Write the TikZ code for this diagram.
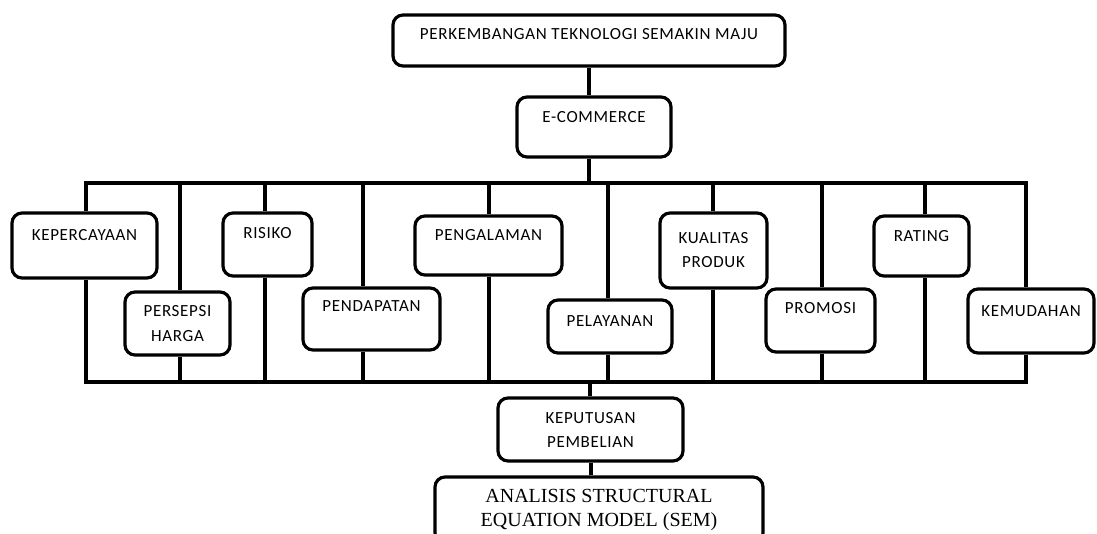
\documentclass[tikz,border=0pt]{standalone}
\usepackage{fontspec}
\newfontfamily\boxfont[LetterSpace=4]{Carlito}
\newfontfamily\semfont{Liberation Serif}
\begin{document}
\begin{tikzpicture}[
    x=1pt, y=-1pt,
    % Estilos de las cajas
    varbox/.style={draw=black, line width=3.2pt, rounded corners=10pt, fill=white,
        align=center, inner sep=0pt, font=\boxfont\fontsize{17}{25}\selectfont},
    sembox/.style={varbox, font=\semfont\fontsize{20}{24}\selectfont},
    % Estilos para las barras
    bar/.style={line width=4pt},
    bus/.style={line width=4pt, line cap=rect}
]
\useasboundingbox (0,0) rectangle (1097,533);
\clip (0,0) rectangle (1097,533);

% --- TOP ---
\node[varbox, minimum width=392pt, minimum height=51pt] (tek) at (589,40.5) {PERKEMBANGAN TEKNOLOGI SEMAKIN MAJU\\[-12pt]~};
\node[varbox, minimum width=154pt, minimum height=60pt] (ecom) at (594,127) {E-COMMERCE\\[-5pt]~};

% --- VARIABLES ---
\node[varbox, minimum width=145pt, minimum height=65pt] (kep) at (84.5,245.5) {KEPERCAYAAN\\[-4pt]~};
\node[varbox, minimum width=105pt, minimum height=63pt] (pers) at (177.5,323.5) {PERSEPSI\\HARGA};
\node[varbox, minimum width=89pt, minimum height=63pt] (ris) at (267.5,244.5) {RISIKO\\[-1pt]~};
\node[varbox, minimum width=137pt, minimum height=62pt] (pend) at (371.5,319) {PENDAPATAN\\~};
\node[varbox, minimum width=147pt, minimum height=59pt] (peng) at (488.5,245.5) {PENGALAMAN\\[-4pt]~};
\node[varbox, minimum width=124pt, minimum height=53pt] (pel) at (610,326.5) {PELAYANAN\\[-14pt]~};
\node[varbox, minimum width=107pt, minimum height=75pt] (kual) at (713.5,250.5) {KUALITAS\\[-1pt]PRODUK};
\node[varbox, minimum width=109pt, minimum height=63pt] (prom) at (820.5,320.5) {PROMOSI\\~};
\node[varbox, minimum width=95pt, minimum height=60pt] (rat) at (921.5,246) {RATING\\[-5pt]~};
\node[varbox, minimum width=126pt, minimum height=64pt] (kem) at (1031,321) {KEMUDAHAN\\[-5pt]~};

% --- BOTTOM ---
\node[varbox, minimum width=185pt, minimum height=63pt] (kpb) at (590.5,429.5) {KEPUTUSAN\\[-1pt]PEMBELIAN};
\node[sembox, minimum width=328pt, minimum height=66pt] (sem) at (599,510) {ANALISIS STRUCTURAL\\EQUATION MODEL (SEM)};

% --- BARS ---
\coordinate (busTL) at (86,183);
\coordinate (busTR) at (1026,183);
\coordinate (busBL) at (86,382);
\coordinate (busBR) at (1026,382);
\coordinate (spineT) at (589,183);
\coordinate (spineB) at (590,382);
\draw[bus] (busTL) -- (busTR);
\draw[bus] (busBL) -- (busBR);
\draw[bar] (tek.south) -- (tek.south |- ecom.north);
\draw[bar] (ecom.south -| spineT) -- (spineT);
\draw[bar] (spineB) -- (spineB |- kpb.north);
\draw[bar] (kpb.south) -- (kpb.south |- sem.north);
\foreach \b/\x in {kep/86, pers/180, ris/265, pend/363, peng/489,
                   pel/608, kual/713, prom/822, rat/925, kem/1026} {
  \coordinate (t\b) at (\x,183);
  \coordinate (u\b) at (\x,382);
  \draw[bar] (t\b) -- (t\b |- \b.north);
  \draw[bar] (\b.south -| u\b) -- (u\b);
}

\end{tikzpicture}
\end{document}
